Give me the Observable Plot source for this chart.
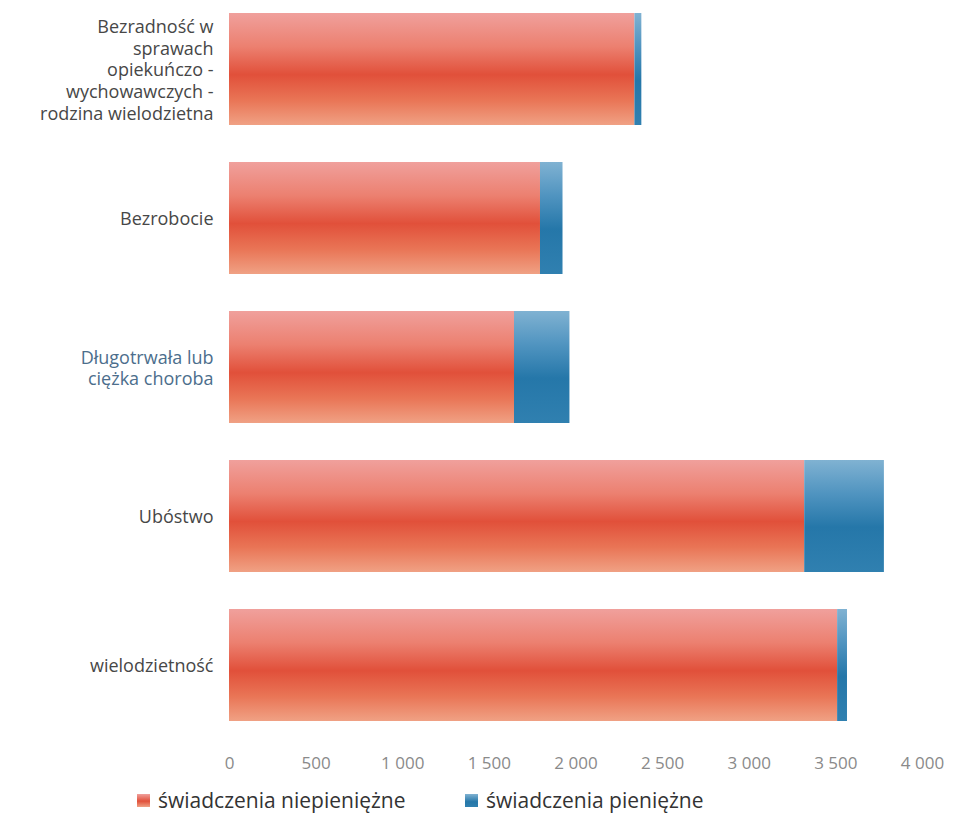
<!DOCTYPE html>
<html>
<head>
<meta charset="utf-8">
<script src="https://cdn.jsdelivr.net/npm/d3@7"></script>
<script src="https://cdn.jsdelivr.net/npm/@observablehq/plot@0.6"></script>
<style>
  html, body { margin: 0; padding: 0; background: #fff; }
  body { width: 954px; height: 821px; overflow: hidden; font-family: "Open Sans", sans-serif; }
  #legend { position: relative; height: 38px; font-size: 21px; color: #333; }
  .item { position: absolute; top: 3px; display: flex; align-items: center; }
  .sw { width: 13px; height: 13px; margin-right: 8px; display: inline-block; }
</style>
</head>
<body>
<div id="chart"></div>
<div id="legend"></div>
<script>
const categories = [
  "Bezradność w\nsprawach\nopiekuńczo -\nwychowawczych -\nrodzina wielodzietna",
  "Bezrobocie",
  "Długotrwała lub\nciężka choroba",
  "Ubóstwo",
  "wielodzietność"
];
const series = ["świadczenia niepieniężne", "świadczenia pieniężne"];
const niepieniezne = [2340, 1795, 1645, 3320, 3510];
const pieniezne = [40, 130, 320, 460, 57];
const xTicks = [0, 500, 1000, 1500, 2000, 2500, 3000, 3500, 4000];

const data = [];
categories.forEach((c, i) => {
  data.push({category: c, series: series[0], value: niepieniezne[i]});
  data.push({category: c, series: series[1], value: pieniezne[i]});
});

const fmt = d => d3.format(",")(d).replace(/,/g, " ");

const chart = Plot.plot({
  width: 954,
  height: 783,
  marginLeft: 229,
  marginRight: 32,
  marginTop: 0,
  marginBottom: 50,
  style: {fontFamily: "Open Sans, sans-serif", background: "#fff"},
  x: {domain: [0, 4000]},
  y: {domain: categories, paddingInner: 0.25, paddingOuter: 0.08},
  color: {domain: series, range: ["url(#gradRed)", "url(#gradBlue)"]},
  marks: [
    Plot.barX(data, Plot.stackX({x: "value", y: "category", fill: "series", order: series})),
    Plot.axisX({ticks: xTicks, tickSize: 0, tickPadding: 23, tickFormat: fmt, fontSize: 17, fill: "#8a8a8a", label: null}),
    Plot.axisY({tickSize: 0, tickPadding: 16, fontSize: 18, lineHeight: 1.2, label: null,
      fill: d => d.startsWith("Długo") ? "#4c6e8c" : "#474747"})
  ]
});

const svg = d3.select(chart);
const defs = svg.insert("defs", ":first-child");
const red = defs.append("linearGradient").attr("id", "gradRed").attr("x1", 0).attr("y1", 0).attr("x2", 0).attr("y2", 1);
[[0, "#f0a09c"], [0.3, "#ec8070"], [0.55, "#e1503a"], [0.78, "#e97556"], [1, "#f0a184"]]
  .forEach(([o, c]) => red.append("stop").attr("offset", o).attr("stop-color", c));
const blue = defs.append("linearGradient").attr("id", "gradBlue").attr("x1", 0).attr("y1", 0).attr("x2", 0).attr("y2", 1);
[[0, "#80b2d2"], [0.3, "#5094c0"], [0.6, "#2577a9"], [1, "#3080b0"]]
  .forEach(([o, c]) => blue.append("stop").attr("offset", o).attr("stop-color", c));

document.getElementById("chart").appendChild(chart);

const legend = document.getElementById("legend");
const swatches = [
  "linear-gradient(#f0a09c, #e1503a 55%, #f0a184)",
  "linear-gradient(#80b2d2, #2577a9 60%, #3080b0)"
];
const lefts = [137, 465];
series.forEach((s, i) => {
  const it = document.createElement("div");
  it.className = "item";
  it.style.left = lefts[i] + "px";
  const sw = document.createElement("span");
  sw.className = "sw";
  sw.style.background = swatches[i];
  const tx = document.createElement("span");
  tx.textContent = s;
  it.appendChild(sw);
  it.appendChild(tx);
  legend.appendChild(it);
});
</script>
</body>
</html>
